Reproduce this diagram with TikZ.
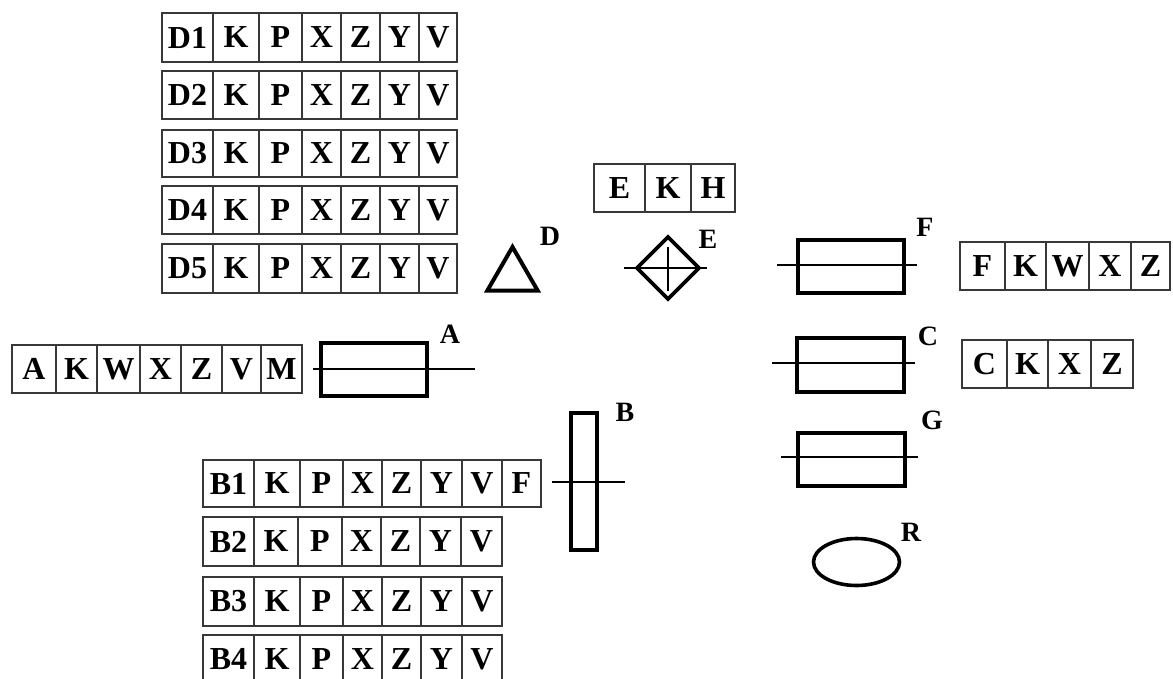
\documentclass[tikz,border=0pt]{standalone}
\usepackage{fontspec}
\setmainfont{Liberation Serif}
\usetikzlibrary{shapes.geometric}

% one row of boxed letters: #1 name, #2 top, #3 bottom, #4 list of left/right/text
\newcommand\celltable[4]{%
  \foreach \l/\r/\t [count=\i] in {#4} {
    \pgfmathsetmacro\cw{\r-\l}
    \pgfmathsetmacro\ch{#3-#2}
    \node[cell, minimum width=\cw pt, minimum height=\ch pt]
      (#1-\i) at ({(\l+\r)/2},{(#2+#3)/2}) {\t};
  }%
}

\tikzset{
  cell/.style={draw=black!78, line width=1.3pt, inner sep=0pt, outer sep=0pt,
    font=\fontsize{32}{32}\selectfont\bfseries},
  partbox/.style={draw, line width=4.3pt, inner sep=0pt, outer sep=0pt},
  axis/.style={draw, line width=1.2pt},
  tag/.style={inner sep=0pt, font=\fontsize{28}{28}\selectfont\bfseries},
}

\begin{document}
\begin{tikzpicture}[x=1pt, y=-1pt]
\useasboundingbox[fill=white] (0,0) rectangle (1173,679);

% ---------- D tables ----------
\celltable{d1}{13}{62}{162/213/D1,213/259/K,259/302/P,302/341/X,341/380/Z,380/419/Y,419/457/V}
\celltable{d2}{71}{119}{162/213/D2,213/259/K,259/302/P,302/341/X,341/380/Z,380/419/Y,419/457/V}
\celltable{d3}{130}{177}{162/213/D3,213/259/K,259/302/P,302/341/X,341/380/Z,380/419/Y,419/457/V}
\celltable{d4}{186}{234}{162/213/D4,213/259/K,259/302/P,302/341/X,341/380/Z,380/419/Y,419/457/V}
\celltable{d5}{244}{293}{162/213/D5,213/259/K,259/302/P,302/341/X,341/380/Z,380/419/Y,419/457/V}

% ---------- E, F, C tables ----------
\celltable{et}{164}{212}{594/645/E,645/691/K,691/735/H}
\celltable{ft}{242}{290}{960/1005/F,1005/1046/K,1046/1089/W,1089/1131/X,1131/1170/Z}
\celltable{ct}{340}{388}{962/1007/C,1007/1048/K,1048/1091/X,1091/1133/Z}

% ---------- A table ----------
\celltable{at}{345}{393}{12/56/A,56/97/K,97/140/W,140/181/X,181/222/Z,222/261/V,261/302/M}

% ---------- B tables ----------
\celltable{b1}{460}{507}{203/254/B1,254/300/K,300/343/P,343/382/X,382/421/Z,421/462/Y,462/502/V,502/541/F}
\celltable{b2}{517}{566}{203/254/B2,254/298/K,298/342/P,342/381/X,381/420/Z,420/461/Y,461/502/V}
\celltable{b3}{577}{626}{203/254/B3,254/300/K,300/343/P,343/382/X,382/421/Z,421/462/Y,462/502/V}
\celltable{b4}{635}{684}{203/254/B4,254/300/K,300/343/P,343/382/X,382/421/Z,421/462/Y,462/502/V}

% ---------- symbols ----------
% triangle D
\node[partbox, regular polygon, regular polygon sides=3, minimum size=58pt,
  line width=4pt] (D) at (512.5,276) {};
\node[tag] (Dl) at (550,236) {D};

% diamond E with cross
\node[partbox, diamond, minimum width=62pt, minimum height=62pt, line width=3.8pt] (E) at (668,268) {};
\node[tag] (El) at (708,239) {E};
\draw[axis] ([xshift=-13pt]E.west) -- ([xshift=8pt]E.east);
\draw[axis] ([yshift=-10pt]E.north) -- ([yshift=8pt]E.south);

% rectangle F
\node[partbox, minimum width=106pt, minimum height=53pt] (F) at (851,266.5) {};
\node[tag] (Fl) at (925,227) {F};
\draw[axis] ([xshift=-21pt]F.west |- 0,265) -- ([xshift=13pt]F.east |- 0,265);

% rectangle A
\node[partbox, minimum width=106pt, minimum height=53pt] (A) at (374,369.5) {};
\node[tag] (Al) at (450,334) {A};
\draw[axis] ([xshift=-8pt]A.west |- 0,369) -- ([xshift=48pt]A.east |- 0,369);

% rectangle C
\node[partbox, minimum width=107pt, minimum height=54pt] (C) at (850.5,365) {};
\node[tag] (Cl) at (928,336) {C};
\draw[axis] ([xshift=-25pt]C.west |- 0,363) -- ([xshift=11pt]C.east |- 0,363);

% rectangle G
\node[partbox, minimum width=107pt, minimum height=53pt] (G) at (851.5,459.5) {};
\node[tag] (Gl) at (932,420) {G};
\draw[axis] ([xshift=-17pt]G.west |- 0,457) -- ([xshift=13pt]G.east |- 0,457);

% tall rectangle B
\node[partbox, minimum width=26pt, minimum height=137pt] (B) at (584,481.5) {};
\node[tag] (Bl) at (625,412) {B};
\draw[axis] ([xshift=-19pt]B.west |- 0,482) -- ([xshift=28pt]B.east |- 0,482);

% ellipse R
\node[partbox, ellipse, minimum width=86pt, minimum height=47pt, line width=3.6pt] (R) at (856.5,562) {};
\node[tag] (Rl) at (911,532) {R};
\end{tikzpicture}
\end{document}
